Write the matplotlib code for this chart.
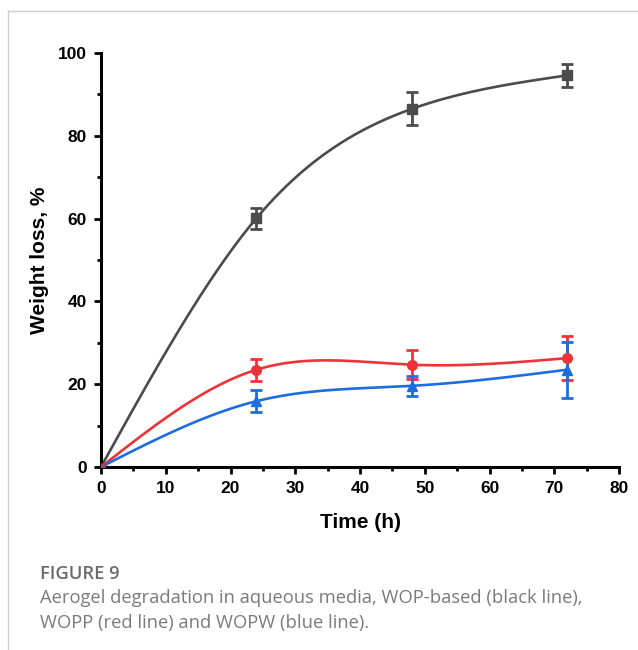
import matplotlib
matplotlib.use('Agg')
import matplotlib.pyplot as plt
import numpy as np
from matplotlib.lines import Line2D

# data
time_h = [0, 24, 48, 72]

wop = [0, 60.1, 86.5, 94.6]
wop_err = [0, 2.5, 4.0, 2.7]

wopp = [0, 23.5, 24.7, 26.3]
wopp_err = [0, 2.7, 3.5, 5.3]

wopw = [0, 15.9, 19.6, 23.5]
wopw_err = [0, 2.7, 2.5, 6.8]

x_ticks = [0, 10, 20, 30, 40, 50, 60, 70, 80]
y_ticks = [0, 20, 40, 60, 80, 100]


def natural_spline(x, y, xs):
    # smooth connecting line through the points (like Origin's spline)
    x = np.asarray(x, float)
    y = np.asarray(y, float)
    n = len(x)
    h = np.diff(x)
    A = np.zeros((n, n))
    b = np.zeros(n)
    A[0, 0] = 1
    A[-1, -1] = 1
    for i in range(1, n - 1):
        A[i, i - 1] = h[i - 1]
        A[i, i] = 2 * (h[i - 1] + h[i])
        A[i, i + 1] = h[i]
        b[i] = 6 * ((y[i + 1] - y[i]) / h[i] - (y[i] - y[i - 1]) / h[i - 1])
    M = np.linalg.solve(A, b)
    out = np.empty_like(xs)
    for k, xv in enumerate(xs):
        i = min(np.searchsorted(x, xv, side='right') - 1, n - 2)
        i = max(i, 0)
        t1 = x[i + 1] - xv
        t2 = xv - x[i]
        out[k] = (M[i] * t1**3 + M[i + 1] * t2**3) / (6 * h[i]) \
            + (y[i] / h[i] - M[i] * h[i] / 6) * t1 \
            + (y[i + 1] / h[i] - M[i + 1] * h[i] / 6) * t2
    return out


plt.rcParams['font.family'] = ['Liberation Sans', 'DejaVu Sans']

fig = plt.figure(figsize=(6.38, 6.5), dpi=100)
ax = fig.add_axes([101 / 638, 183 / 650, 518 / 638, 414 / 650])

series = [
    (wop, wop_err, '#4b4b4b', 's'),
    (wopp, wopp_err, '#ec3338', 'o'),
    (wopw, wopw_err, '#1c6ee0', '^'),
]

xs = np.linspace(0, 72, 300)
for vals, errs, col, mk in series:
    ax.plot(xs, natural_spline(time_h, vals, xs), color=col, lw=1.9, zorder=2)
    ax.errorbar(time_h[1:], vals[1:], yerr=errs[1:], fmt=mk, color=col,
                ms=7, elinewidth=2, capsize=4, capthick=2, zorder=3)
    ax.plot(time_h[0], vals[0], marker=mk, color=col, ms=5, zorder=3)

ax.set_xlim(0, 80)
ax.set_ylim(0, 100)
ax.set_xticks(x_ticks)
ax.set_yticks(y_ticks)
ax.set_xticks(np.arange(5, 80, 10), minor=True)
ax.set_yticks(np.arange(10, 100, 20), minor=True)

for s in ['top', 'right']:
    ax.spines[s].set_visible(False)
for s in ['left', 'bottom']:
    ax.spines[s].set_linewidth(2.2)

ax.tick_params(which='major', direction='out', length=5, width=2, pad=5,
               labelsize=12.5)
ax.tick_params(which='minor', direction='out', length=3, width=2)
for lab in ax.get_xticklabels() + ax.get_yticklabels():
    lab.set_fontweight('bold')

ax.set_xlabel('Time (h)', fontsize=15, fontweight='bold')
ax.set_ylabel('Weight loss, %', fontsize=15, fontweight='bold')
ax.xaxis.set_label_coords(0.5, -0.112)
ax.yaxis.set_label_coords(-0.1, 0.5)

# panel frame
fig.add_artist(Line2D([8 / 638, 8 / 638], [0, 1 - 11 / 650],
                      transform=fig.transFigure, color='#cfcfcf', lw=1))
fig.add_artist(Line2D([8 / 638, 1], [1 - 11 / 650, 1 - 11 / 650],
                      transform=fig.transFigure, color='#cfcfcf', lw=1))

# caption
cap_font = ['Open Sans', 'DejaVu Sans']
fig.text(40 / 638, 1 - 579 / 650, 'FIGURE 9', fontsize=13.2, color='#6a6a6a',
         family=cap_font, fontweight='semibold', va='baseline')
fig.text(40 / 638, 1 - 603 / 650,
         'Aerogel degradation in aqueous media, WOP-based (black line),',
         fontsize=13.2, color='#7a7a7a', family=cap_font, va='baseline')
fig.text(40 / 638, 1 - 628 / 650,
         'WOPP (red line) and WOPW (blue line).',
         fontsize=13.2, color='#7a7a7a', family=cap_font, va='baseline')

fig.savefig('out.png', dpi=100)
